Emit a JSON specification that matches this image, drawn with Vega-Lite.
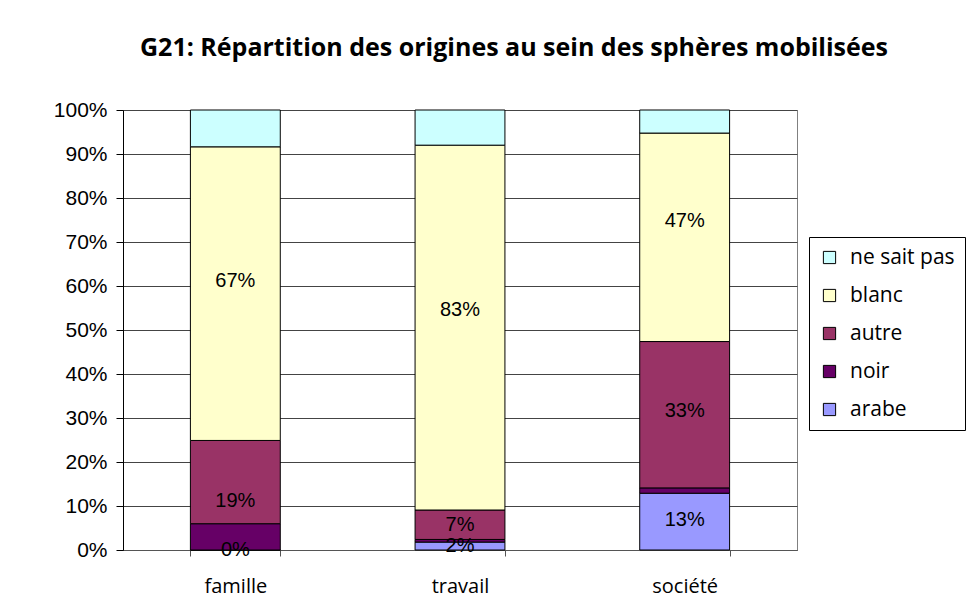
{
  "$schema": "https://vega.github.io/schema/vega-lite/v6.json",
  "autosize": {"type": "none"},
  "width": 674,
  "height": 440,
  "padding": {"left": 123, "top": 110, "right": 170, "bottom": 60},
  "background": "white",
  "title": {
    "text": "G21: Répartition des origines au sein des sphères mobilisées",
    "font": "Open Sans",
    "fontSize": 25,
    "fontWeight": "bold",
    "color": "black",
    "anchor": "middle",
    "dx": 54,
    "offset": 38
  },
  "data": {
    "values": [
      {"sphere": "famille", "origine": "arabe", "rang": 1, "part": 0.0},
      {"sphere": "famille", "origine": "noir", "rang": 2, "part": 0.06},
      {"sphere": "famille", "origine": "autre", "rang": 3, "part": 0.19},
      {"sphere": "famille", "origine": "blanc", "rang": 4, "part": 0.67},
      {"sphere": "famille", "origine": "ne sait pas", "rang": 5, "part": 0.084},
      {"sphere": "travail", "origine": "arabe", "rang": 1, "part": 0.018},
      {"sphere": "travail", "origine": "noir", "rang": 2, "part": 0.006},
      {"sphere": "travail", "origine": "autre", "rang": 3, "part": 0.067},
      {"sphere": "travail", "origine": "blanc", "rang": 4, "part": 0.83},
      {"sphere": "travail", "origine": "ne sait pas", "rang": 5, "part": 0.08},
      {"sphere": "société", "origine": "arabe", "rang": 1, "part": 0.128},
      {"sphere": "société", "origine": "noir", "rang": 2, "part": 0.012},
      {"sphere": "société", "origine": "autre", "rang": 3, "part": 0.33},
      {"sphere": "société", "origine": "blanc", "rang": 4, "part": 0.47},
      {"sphere": "société", "origine": "ne sait pas", "rang": 5, "part": 0.052}
    ]
  },
  "encoding": {
    "x": {
      "field": "sphere",
      "type": "nominal",
      "sort": ["famille", "travail", "société"],
      "scale": {"paddingInner": 0.6, "paddingOuter": 0.3},
      "axis": {
        "title": null,
        "labelAngle": 0,
        "labelFont": "Open Sans",
        "labelFontSize": 20,
        "labelColor": "black",
        "labelPadding": 20,
        "tickBand": "extent",
        "tickSize": 6,
        "tickColor": "#555",
        "domainColor": "#555",
        "grid": false
      }
    },
    "y": {
      "field": "part",
      "type": "quantitative",
      "stack": "normalize",
      "axis": {
        "title": null,
        "format": ".0%",
        "values": [0, 0.1, 0.2, 0.3, 0.4, 0.5, 0.6, 0.7, 0.8, 0.9, 1],
        "labelFont": "Liberation Sans",
        "labelFontSize": 21,
        "labelColor": "black",
        "labelPadding": 9,
        "tickSize": 7,
        "tickColor": "black",
        "domainColor": "black",
        "grid": true,
        "gridColor": "#444",
        "gridWidth": 1
      }
    },
    "order": {"field": "rang", "type": "quantitative", "sort": "ascending"}
  },
  "layer": [
    {
      "mark": {"type": "bar", "stroke": "black", "strokeWidth": 1},
      "encoding": {
        "color": {
          "field": "origine",
          "type": "nominal",
          "scale": {
            "domain": ["ne sait pas", "blanc", "autre", "noir", "arabe"],
            "range": ["#CCFFFF", "#FFFFCC", "#993366", "#660066", "#9999FF"]
          },
          "legend": {
            "title": null,
            "orient": "none",
            "legendX": 686,
            "legendY": 127,
            "strokeColor": "black",
            "padding": 10,
            "symbolType": "square",
            "symbolSize": 150,
            "symbolStrokeColor": "black",
            "symbolStrokeWidth": 1,
            "labelFont": "Open Sans",
            "labelFontSize": 21,
            "labelColor": "black",
            "labelOffset": 10,
            "rowPadding": 16
          }
        }
      }
    },
    {
      "transform": [{"filter": {"field": "origine", "oneOf": ["arabe", "autre", "blanc"]}}],
      "mark": {"type": "text", "font": "Liberation Sans", "fontSize": 20, "color": "black", "baseline": "middle"},
      "encoding": {
        "y": {"field": "part", "type": "quantitative", "stack": "normalize", "bandPosition": 0.5},
        "text": {"field": "part", "type": "quantitative", "format": ".0%"}
      }
    }
  ],
  "config": {
    "view": {"stroke": "#808080", "strokeWidth": 1}
  }
}
